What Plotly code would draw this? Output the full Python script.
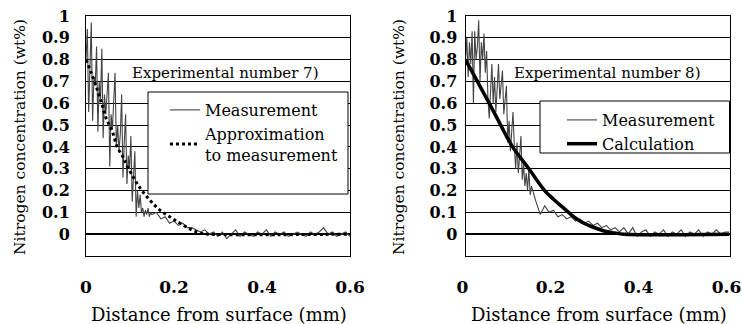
import plotly.graph_objects as go

# ---------------- data ----------------
# Left panel: Experimental number 7)
meas7_x = [0.000, 0.003, 0.006, 0.009, 0.012, 0.015, 0.018, 0.021, 0.024, 0.027,
           0.030, 0.033, 0.036, 0.039, 0.042, 0.045, 0.048, 0.051, 0.054, 0.057,
           0.060, 0.063, 0.066, 0.069, 0.072, 0.075, 0.078, 0.081, 0.084, 0.087,
           0.090, 0.093, 0.096, 0.099, 0.102, 0.105, 0.108, 0.111, 0.114, 0.117,
           0.120, 0.123, 0.126, 0.129, 0.132, 0.135, 0.138, 0.141, 0.144, 0.147,
           0.150, 0.16, 0.17, 0.18, 0.19, 0.20, 0.21, 0.22, 0.23, 0.24,
           0.25, 0.26, 0.27, 0.28, 0.29, 0.30, 0.31, 0.32, 0.33, 0.34,
           0.35, 0.36, 0.37, 0.38, 0.39, 0.40, 0.41, 0.42, 0.43, 0.44,
           0.45, 0.46, 0.47, 0.48, 0.49, 0.50, 0.51, 0.52, 0.53, 0.54,
           0.55, 0.56, 0.57, 0.58, 0.59, 0.60]
meas7_y = [0.80, 0.94, 0.56, 0.78, 0.97, 0.52, 0.72, 0.68, 0.86, 0.47,
           0.70, 0.62, 0.85, 0.44, 0.64, 0.55, 0.66, 0.74, 0.31, 0.55,
           0.48, 0.62, 0.74, 0.40, 0.50, 0.38, 0.46, 0.64, 0.26, 0.42,
           0.55, 0.23, 0.36, 0.30, 0.45, 0.15, 0.30, 0.38, 0.08, 0.20,
           0.12, 0.18, 0.10, 0.12, 0.08, 0.11, 0.09, 0.12, 0.08, 0.10,
           0.09, 0.10, 0.07, 0.08, 0.05, 0.06, 0.04, 0.05, 0.03, 0.03,
           0.02, 0.01, 0.02, 0.00, 0.01, -0.01, 0.01, -0.02, 0.00, 0.02,
           -0.01, 0.01, 0.00, -0.01, 0.01, 0.00, 0.02, -0.01, 0.01, 0.00,
           0.01, -0.01, 0.00, 0.01, 0.00, -0.01, 0.01, 0.00, 0.01, 0.03,
           0.00, 0.01, -0.01, 0.00, 0.01, -0.01]
approx7_x = [0.00, 0.012, 0.026, 0.037, 0.046, 0.060, 0.071, 0.085, 0.094, 0.108,
             0.12, 0.135, 0.15, 0.168, 0.19, 0.214, 0.24, 0.26, 0.28, 0.60]
approx7_y = [0.80, 0.74, 0.66, 0.59, 0.53, 0.47, 0.40, 0.35, 0.31, 0.26,
             0.22, 0.18, 0.145, 0.11, 0.08, 0.05, 0.02, 0.005, 0.0, 0.0]

# Right panel: Experimental number 8)
meas8_x = meas7_x
meas8_y = [0.80, 0.90, 0.72, 0.88, 0.78, 0.93, 0.60, 0.93, 0.80, 0.86,
           0.98, 0.70, 0.88, 0.80, 0.92, 0.74, 0.84, 0.62, 0.53, 0.70,
           0.78, 0.60, 0.72, 0.56, 0.68, 0.78, 0.62, 0.70, 0.75, 0.55,
           0.62, 0.68, 0.42, 0.52, 0.38, 0.48, 0.56, 0.40, 0.30, 0.42,
           0.28, 0.36, 0.45, 0.25, 0.32, 0.22, 0.28, 0.20, 0.30, 0.18,
           0.22, 0.15, 0.09, 0.13, 0.10, 0.11, 0.08, 0.09, 0.07, 0.08,
           0.06, 0.07, 0.05, 0.06, 0.04, 0.05, 0.03, 0.04, 0.02, 0.03,
           0.01, 0.03, 0.00, 0.03, -0.01, 0.01, 0.02, -0.01, 0.01, 0.00,
           0.02, -0.01, 0.01, 0.00, 0.02, -0.01, 0.01, 0.00, 0.02, -0.01,
           0.01, 0.00, 0.02, 0.00, 0.01, 0.01]
calc8_x = [0.00, 0.027, 0.054, 0.08, 0.107, 0.144, 0.18, 0.20, 0.22, 0.24,
           0.26, 0.28, 0.30, 0.32, 0.34, 0.36, 0.60]
calc8_y = [0.80, 0.70, 0.60, 0.50, 0.40, 0.30, 0.20, 0.16, 0.125, 0.09,
           0.06, 0.04, 0.025, 0.012, 0.005, 0.0, 0.0]

y_ticks = [0, 0.1, 0.2, 0.3, 0.4, 0.5, 0.6, 0.7, 0.8, 0.9, 1]
y_ticktext = ["0", "0.1", "0.2", "0.3", "0.4", "0.5", "0.6", "0.7", "0.8", "0.9", "1"]
x_ticks = [0, 0.2, 0.4, 0.6]
x_ticktext = ["0", "0.2", "0.4", "0.6"]

# ---------------- figure ----------------
W, H = 742, 324
SERIF = "DejaVu Serif"

def px(x):
    return x / W

def py(y):
    return 1 - y / H

fig = go.Figure()

fig.add_trace(go.Scatter(x=meas7_x, y=meas7_y, mode="lines", name="Measurement",
                         line=dict(color="#444444", width=1.1),
                         xaxis="x", yaxis="y", legend="legend"))
fig.add_trace(go.Scatter(x=approx7_x, y=approx7_y, mode="lines",
                         name="Approximation<br>to measurement",
                         line=dict(color="black", width=3, dash="dot", shape="spline"),
                         xaxis="x", yaxis="y", legend="legend"))
fig.add_trace(go.Scatter(x=meas8_x, y=meas8_y, mode="lines", name="Measurement",
                         line=dict(color="#444444", width=1.1),
                         xaxis="x2", yaxis="y2", legend="legend2"))
fig.add_trace(go.Scatter(x=calc8_x, y=calc8_y, mode="lines", name="Calculation",
                         line=dict(color="black", width=3.5, shape="spline"),
                         xaxis="x2", yaxis="y2", legend="legend2"))

dom_y = [py(256), py(16)]
dom_x1 = [px(86), px(350)]
dom_x2 = [px(465.5), px(729.5)]

def xaxis_common(domain, anchor, shift=0):
    return dict(domain=domain, anchor=anchor, range=[0, 0.6], automargin=False,
                tickvals=x_ticks, ticktext=x_ticktext, ticks="",
                ticklabeloverflow="allow", ticklabelshift=shift,
                showgrid=False, zeroline=False, showline=True, mirror=True,
                linecolor="black", linewidth=1,
                tickfont=dict(family=SERIF, size=17, color="black", weight="bold"),
                ticklabelstandoff=16)

def yaxis_common(anchor, standoff):
    return dict(domain=dom_y, anchor=anchor, range=[-0.1, 1.0], automargin=False,
                tickvals=y_ticks, ticktext=y_ticktext, ticks="",
                ticklabeloverflow="allow",
                showgrid=True, gridcolor="black", gridwidth=1,
                zeroline=True, zerolinecolor="black", zerolinewidth=2,
                showline=True, mirror=True, linecolor="black", linewidth=1,
                tickfont=dict(family=SERIF, size=16, color="black", weight="bold"),
                ticklabelstandoff=standoff)

def tick_axis(overlay):
    return dict(overlaying=overlay, anchor="free", position=py(234.3),
                range=[0, 0.6], tick0=0, dtick=0.05, ticks="inside",
                ticklen=4, tickwidth=1, tickcolor="black", automargin=False,
                showticklabels=False, showline=False, showgrid=False,
                zeroline=False)

fig.update_layout(
    width=W, height=H,
    margin=dict(l=0, r=0, t=0, b=0, autoexpand=False),
    paper_bgcolor="white", plot_bgcolor="white",
    font=dict(family=SERIF, color="black"),
    xaxis=xaxis_common(dom_x1, "y"),
    yaxis=yaxis_common("x", 12),
    xaxis2=xaxis_common(dom_x2, "y2", shift=-3),
    yaxis2=yaxis_common("x2", 4),
    xaxis3=tick_axis("x"),
    xaxis4=tick_axis("x2"),
    legend=dict(x=px(165), y=py(93), xanchor="left", yanchor="top",
                bgcolor="rgba(0,0,0,0)", borderwidth=0,
                font=dict(family=SERIF, size=16, color="black")),
    legend2=dict(x=px(562), y=py(103), xanchor="left", yanchor="top",
                 bgcolor="rgba(0,0,0,0)", borderwidth=0,
                 font=dict(family=SERIF, size=16, color="black")),
    showlegend=True,
)

# legend frames
fig.add_shape(type="rect", xref="paper", yref="paper",
              x0=px(148), x1=px(348), y0=py(194), y1=py(92),
              line=dict(color="black", width=1), fillcolor="white", layer="above")
fig.add_shape(type="rect", xref="paper", yref="paper",
              x0=px(540), x1=px(729.5), y0=py(153), y1=py(101),
              line=dict(color="black", width=1), fillcolor="white", layer="above")

ann = [
    dict(text="Experimental number 7)", x=px(225), y=py(73), size=15, angle=0),
    dict(text="Experimental number 8)", x=px(607), y=py(73), size=15, angle=0),
    dict(text="Distance from surface (mm)", x=px(219), y=py(314), size=18, angle=0),
    dict(text="Distance from surface (mm)", x=px(599), y=py(314), size=18, angle=0),
    dict(text="Nitrogen concentration (wt%)", x=px(20), y=py(137), size=15.5, angle=-90),
    dict(text="Nitrogen concentration (wt%)", x=px(399), y=py(137), size=15.5, angle=-90),
]
for a in ann:
    fig.add_annotation(text=a["text"], x=a["x"], y=a["y"], xref="paper", yref="paper",
                       xanchor="center", yanchor="middle", showarrow=False,
                       textangle=a["angle"],
                       font=dict(family=SERIF, size=a["size"], color="black"),
                       bgcolor="rgba(0,0,0,0)")

fig.write_html("out.html", config={"displayModeBar": False},
               post_script="document.body.style.margin='0';document.body.style.overflow='hidden';")
